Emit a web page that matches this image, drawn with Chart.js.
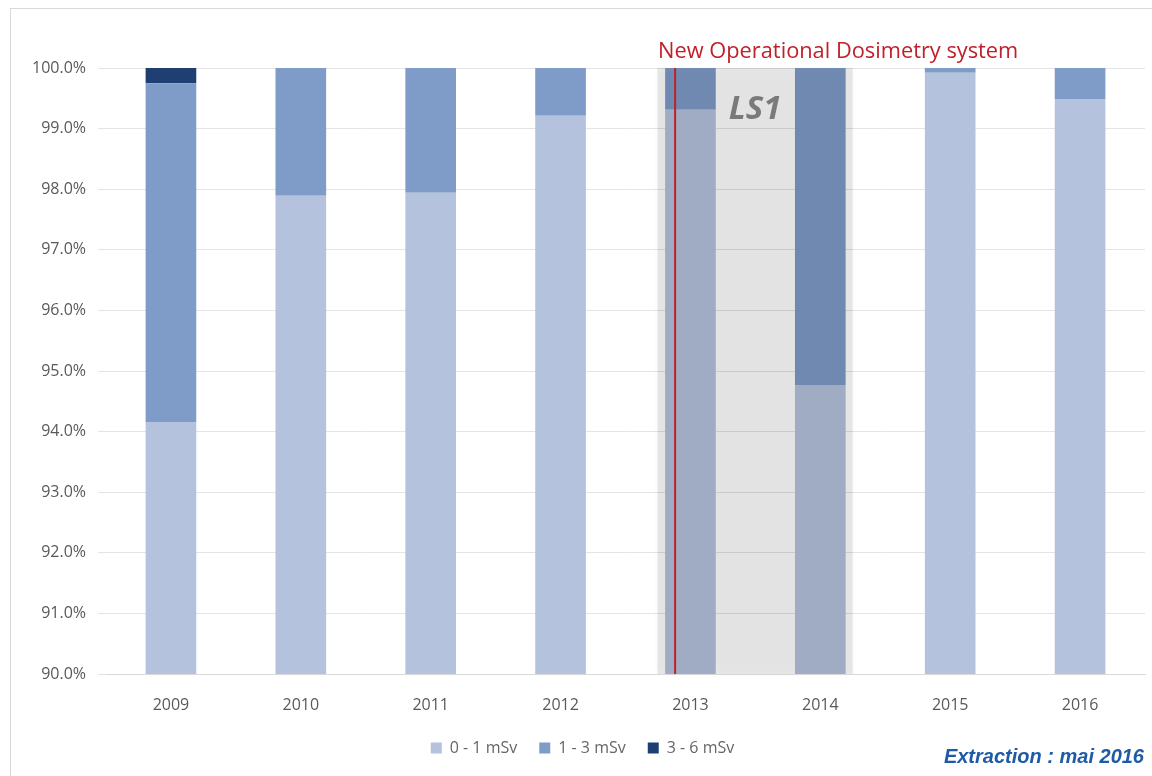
<!DOCTYPE html>
<html>
<head>
<meta charset="utf-8">
<script src="https://cdn.jsdelivr.net/npm/chart.js@4"></script>
<style>
  html, body { margin: 0; padding: 0; background: #fff; }
  #wrap { position: absolute; left: 0; top: 0; width: 1152px; height: 776px; }
  #frame { position: absolute; left: 10px; top: 8px; width: 1150px; height: 780px; border: 1px solid #d9d9d9; }
  #extraction { position: absolute; right: 8px; top: 745px; font: italic bold 20px "Liberation Sans", Arial, sans-serif; color: #1f5aa6; }
</style>
</head>
<body>
<div id="wrap">
  <div id="frame"></div>
  <canvas id="myChart" width="1152" height="776"></canvas>
  <div id="extraction">Extraction : mai 2016</div>
</div>
<script>
const years = ['2009', '2010', '2011', '2012', '2013', '2014', '2015', '2016'];
const dose0to1 = [94.16, 97.89, 97.94, 99.21, 99.31, 94.77, 99.92, 99.49];
const dose1to3 = [5.59, 2.11, 2.06, 0.79, 0.69, 5.23, 0.08, 0.51];
const dose3to6 = [0.25, 0, 0, 0, 0, 0, 0, 0];

// LS1 shading + new dosimetry marker
const ls1Plugin = {
  id: 'ls1',
  afterDatasetsDraw(chart) {
    const ctx = chart.ctx;
    const x = chart.scales.x;
    const area = chart.chartArea;
    const step = x.getPixelForValue(1) - x.getPixelForValue(0);
    const left = x.getPixelForValue(4) - step * 0.255;
    const right = x.getPixelForValue(5) + step * 0.25;
    ctx.save();
    ctx.shadowColor = 'rgba(0,0,0,0.25)';
    ctx.shadowBlur = 8;
    ctx.fillStyle = 'rgba(0,0,0,0.09)';
    ctx.fillRect(left, area.top, right - left, area.bottom - area.top);
    ctx.restore();

    ctx.save();
    ctx.font = 'italic bold 33px "Open Sans", sans-serif';
    ctx.fillStyle = '#7a7a7a';
    ctx.textAlign = 'center';
    ctx.textBaseline = 'middle';
    ctx.fillText('LS1', (left + right) / 2, area.top + 42);

    const lineX = x.getPixelForValue(4) - step * 0.118;
    ctx.strokeStyle = '#c0202a';
    ctx.lineWidth = 2;
    ctx.beginPath();
    ctx.moveTo(lineX, area.top);
    ctx.lineTo(lineX, area.bottom);
    ctx.stroke();

    ctx.font = '21.8px "Open Sans", sans-serif';
    ctx.fillStyle = '#c0202a';
    ctx.textAlign = 'left';
    ctx.textBaseline = 'alphabetic';
    ctx.fillText('New Operational Dosimetry system', lineX - 17, area.top - 10);
    ctx.restore();
  }
};

const data = {
  labels: years,
  datasets: [
    { label: '0 - 1 mSv', data: dose0to1, backgroundColor: '#b4c2dd' },
    { label: '1 - 3 mSv', data: dose1to3, backgroundColor: '#7f9bc8' },
    { label: '3 - 6 mSv', data: dose3to6, backgroundColor: '#1f3f73' }
  ]
};

const config = {
  type: 'bar',
  data: data,
  options: {
    responsive: false,
    animation: false,
    layout: { padding: { left: 20, right: 7, top: 68, bottom: 10 } },
    datasets: { bar: { categoryPercentage: 1, barPercentage: 0.39 } },
    plugins: {
      tooltip: { enabled: false },
      legend: {
        position: 'bottom',
        labels: {
          boxWidth: 11, boxHeight: 11, padding: 22,
          color: '#666666',
          font: { family: 'Open Sans', size: 16 }
        }
      }
    },
    scales: {
      x: {
        stacked: true,
        grid: { display: false },
        border: { color: '#d9d9d9' },
        ticks: { color: '#595959', font: { family: 'Open Sans', size: 16 }, padding: 14 },
        afterFit(scale) { scale.height = 44; }
      },
      y: {
        stacked: true,
        min: 90, max: 100,
        grid: { color: '#e4e4e4' },
        border: { display: false },
        ticks: {
          stepSize: 1,
          color: '#595959',
          font: { family: 'Open Sans', size: 16 },
          padding: 12,
          callback: v => v.toFixed(1) + '%'
        },
        afterFit(scale) { scale.width = 86; }
      }
    }
  },
  plugins: [ls1Plugin]
};

const myChart = new Chart(document.getElementById('myChart'), config);
</script>
</body>
</html>
